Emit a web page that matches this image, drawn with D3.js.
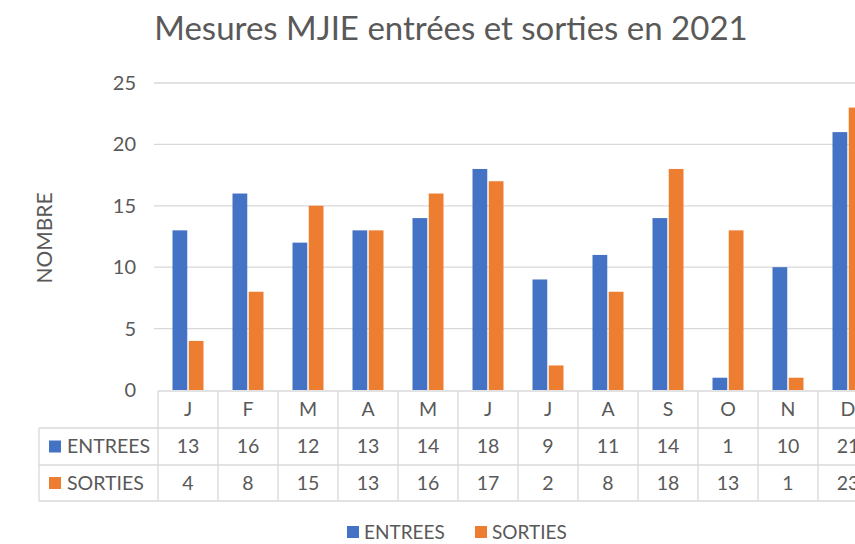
<!DOCTYPE html>
<html>
<head>
<meta charset="utf-8">
<script src="https://cdn.jsdelivr.net/npm/d3@7"></script>
<style>
  body { margin: 0; background: #fff; }
  svg text { font-family: Lato, "Open Sans", sans-serif; fill: #595959; }
</style>
</head>
<body>
<svg id="chart" width="855" height="544"></svg>
<script>
const months = ["J", "F", "M", "A", "M", "J", "J", "A", "S", "O", "N", "D"]
const entrees = [13, 16, 12, 13, 14, 18, 9, 11, 14, 1, 10, 21]
const sorties = [4, 8, 15, 13, 16, 17, 2, 8, 18, 13, 1, 23]
const seriesNames = ["ENTREES", "SORTIES"]
const yTicks = [0, 5, 10, 15, 20, 25]

const blue = "#4472C4", orange = "#ED7D31"
const colours = [blue, orange]
const series = [entrees, sorties]

const svg = d3.select("#chart")

// plot area runs past the right edge (cropped like the original)
const plotLeft = 158, plotRight = 878, plotTop = 83, plotBottom = 390
const fs = 19.5

const x = d3.scaleBand()
  .domain(d3.range(months.length))
  .range([plotLeft, plotRight])

const inner = d3.scaleBand()
  .domain([0, 1])
  .range([14.5, 45.5])
  .paddingInner(0.09)

const y = d3.scaleLinear()
  .domain([0, 25])
  .range([plotBottom, plotTop])

// gridlines
svg.append("g")
  .selectAll("line")
  .data(yTicks.slice(1))
  .join("line")
  .attr("x1", plotLeft - 4)
  .attr("x2", plotRight)
  .attr("y1", d => y(d))
  .attr("y2", d => y(d))
  .attr("stroke", "#d9d9d9")
  .attr("stroke-width", 1.3)

// y tick labels
svg.append("g")
  .selectAll("text")
  .data(yTicks)
  .join("text")
  .attr("x", 136)
  .attr("y", d => y(d))
  .attr("dy", "0.35em")
  .attr("text-anchor", "end")
  .attr("font-size", 20)
  .text(d => d)

// y axis title
svg.append("text")
  .attr("transform", "translate(52,238) rotate(-90)")
  .attr("text-anchor", "middle")
  .attr("font-size", 21)
  .text("NOMBRE")

// bars
series.forEach((values, si) => {
  svg.append("g")
    .selectAll("rect")
    .data(values)
    .join("rect")
    .attr("x", (d, i) => x(i) + inner(si))
    .attr("y", d => y(d))
    .attr("width", inner.bandwidth())
    .attr("height", d => y(0) - y(d))
    .attr("fill", colours[si])
})

// data table under the chart
const rowTop = [plotBottom + 1, 428, 465, 501]
const tableLeft = 39
const grid = svg.append("g")
  .attr("stroke", "#d9d9d9")
  .attr("stroke-width", 1.3)

grid.append("line")
  .attr("x1", plotLeft).attr("x2", plotRight)
  .attr("y1", rowTop[0]).attr("y2", rowTop[0])
rowTop.slice(1).forEach(ry => {
  grid.append("line")
    .attr("x1", tableLeft).attr("x2", plotRight)
    .attr("y1", ry).attr("y2", ry)
})
grid.append("line")
  .attr("x1", tableLeft).attr("x2", tableLeft)
  .attr("y1", rowTop[1]).attr("y2", rowTop[3])
grid.selectAll("line.col")
  .data(d3.range(months.length + 1))
  .join("line")
  .attr("class", "col")
  .attr("x1", i => plotLeft + i * x.step())
  .attr("x2", i => plotLeft + i * x.step())
  .attr("y1", rowTop[0])
  .attr("y2", rowTop[3])

// month labels
svg.append("g")
  .selectAll("text")
  .data(months)
  .join("text")
  .attr("x", (d, i) => x(i) + x.bandwidth() / 2)
  .attr("y", (rowTop[0] + rowTop[1]) / 2)
  .attr("dy", "0.35em")
  .attr("text-anchor", "middle")
  .attr("font-size", fs)
  .text(d => d)

// value rows
series.forEach((values, si) => {
  const cy = (rowTop[si + 1] + rowTop[si + 2]) / 2
  const row = svg.append("g")
  row.append("rect")
    .attr("x", 49).attr("y", cy - 6)
    .attr("width", 12).attr("height", 12)
    .attr("fill", colours[si])
  row.append("text")
    .attr("x", 67).attr("y", cy)
    .attr("dy", "0.35em")
    .attr("font-size", fs)
    .text(seriesNames[si])
  row.selectAll("text.v")
    .data(values)
    .join("text")
    .attr("class", "v")
    .attr("x", (d, i) => x(i) + x.bandwidth() / 2)
    .attr("y", cy)
    .attr("dy", "0.35em")
    .attr("text-anchor", "middle")
    .attr("font-size", fs)
    .text(d => d)
})

// legend
const legend = svg.append("g")
const legendX = [347, 475]
seriesNames.forEach((name, si) => {
  legend.append("rect")
    .attr("x", legendX[si]).attr("y", 526)
    .attr("width", 12).attr("height", 12)
    .attr("fill", colours[si])
  legend.append("text")
    .attr("x", legendX[si] + 17).attr("y", 532)
    .attr("dy", "0.35em")
    .attr("font-size", 19)
    .text(name)
})

// title
svg.append("text")
  .attr("x", 451)
  .attr("y", 40)
  .attr("text-anchor", "middle")
  .attr("font-size", 33)
  .text("Mesures MJIE entrées et sorties en 2021")
</script>
</body>
</html>
